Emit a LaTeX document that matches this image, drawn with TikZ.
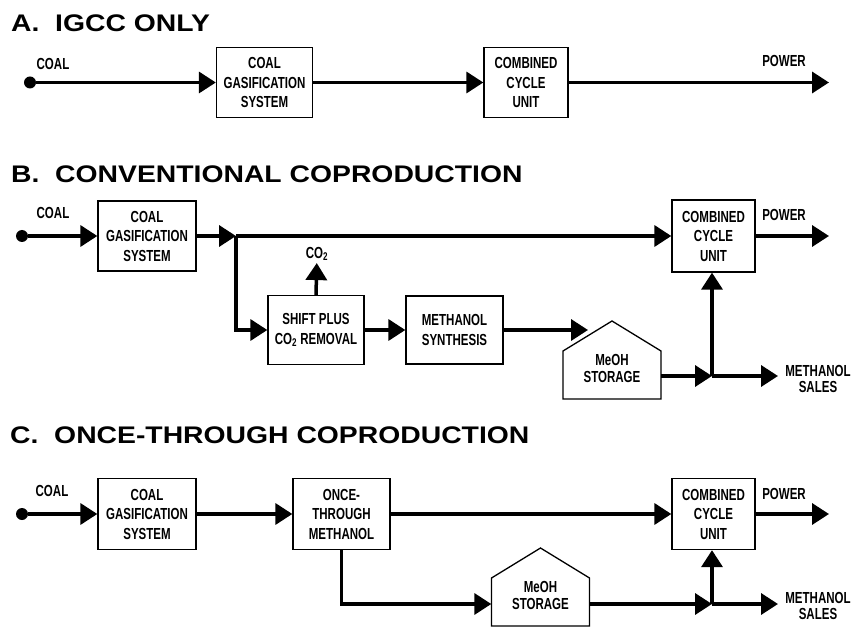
\documentclass[tikz,border=0pt]{standalone}
\usepackage{fontspec}
\setmainfont{Liberation Sans}
\newfontfamily\lblfont[FakeStretch=0.72]{Liberation Sans}
\newfontfamily\ttlfont[FakeStretch=1.18]{Liberation Sans}
\usetikzlibrary{arrows.meta}

\begin{document}
\begin{tikzpicture}[x=1pt,y=-1pt,
  box/.style = {draw, line width=1.3pt, minimum height=70pt, inner sep=2pt,
    align=center, font=\lblfont\bfseries\fontsize{16}{19.5}\selectfont},
  store/.style = {minimum width=98pt, inner sep=0pt, align=center,
    font=\lblfont\bfseries\fontsize{16}{17}\selectfont},
  lbl/.style = {inner sep=2pt, align=center,
    font=\lblfont\bfseries\fontsize{16}{16.5}\selectfont},
  ttl/.style = {anchor=base west, inner sep=0pt,
    font=\ttlfont\bfseries\fontsize{24}{28}\selectfont},
  dot/.style = {circle, fill, minimum size=12pt, inner sep=0pt},
  flow/.style = {line width=3.5pt, -{Triangle[length=17pt,width=21pt]}},
  wall/.style = {line width=1.3pt, line join=miter}]
  \useasboundingbox (0,0) rectangle (856,628);

  \node[ttl] (ttlA) at (11,32) {A.\ \ IGCC ONLY};
  \node[dot] (coalA) at (30,82.5) {};
  \node[lbl] (coalAl) at (53,64) {COAL};
  \node[box, minimum width=96pt] (gasA) at (264.5,82.5) {COAL\\GASIFICATION\\SYSTEM};
  \node[box, minimum width=84pt] (ccA) at (526,82.5) {COMBINED\\CYCLE\\UNIT};
  \coordinate (powA) at (829,82.5);
  \node[lbl] (powAl) at (784,61) {POWER};
  \draw[flow] (coalA) -- (gasA);
  \draw[flow] (gasA) -- (ccA);
  \draw[flow] (ccA) -- (powA);

  \node[ttl] (ttlB) at (11,183) {B.\ \ CONVENTIONAL COPRODUCTION};
  \node[dot] (coalB) at (22,236) {};
  \node[lbl] (coalBl) at (53,213) {COAL};
  \node[box, minimum width=98pt] (gasB) at (147,236) {COAL\\GASIFICATION\\SYSTEM};
  \coordinate (jB) at (236,236);
  \node[box, minimum width=83pt, minimum height=72pt] (ccB) at (713.5,236) {COMBINED\\CYCLE\\UNIT};
  \coordinate (powB) at (829,236);
  \node[lbl] (powBl) at (784,215) {POWER};
  \node[box, minimum width=96pt, minimum height=69pt] (shift) at (316,330) {SHIFT PLUS\\CO\textsubscript{2} REMOVAL};
  \node[lbl] (co2) at (317,254) {CO\textsubscript{2}};
  \node[box, minimum width=97pt, minimum height=68pt] (synth) at (454.5,330) {METHANOL\\SYNTHESIS};
  \node[store] (stB) at (612,368) {MeOH\\STORAGE};
  \draw[wall] ([shift={(-49,31)}]stB.center) -- ++(0,-48) -- ++(49,-30) -- ++(49,30) -- ++(0,48) -- cycle;
  \coordinate (inB) at (588,330);
  \coordinate (jB2) at (712,376);
  \coordinate (salesB) at (778,376);
  \node[lbl] (salesBl) at (818,379) {METHANOL\\SALES};
  \draw[flow] (coalB) -- (gasB);
  \draw[flow] (gasB) -- (jB);
  \draw[flow] (jB) -- (ccB);
  \draw[flow] (ccB) -- (powB);
  \draw[flow] (jB) |- (shift);
  \draw[flow] (shift.north) -- (co2);
  \draw[flow] (shift) -- (synth);
  \draw[flow] (synth) -- (inB);
  \draw[flow] ([yshift=-8pt]stB.east) -- (jB2);
  \draw[flow] (jB2) -- (salesB);
  \draw[flow] (jB2) -- (jB2 |- ccB.south);

  \node[ttl] (ttlC) at (10,443) {C.\ \ ONCE-THROUGH COPRODUCTION};
  \node[dot] (coalC) at (22,514) {};
  \node[lbl] (coalCl) at (52,491) {COAL};
  \node[box, minimum width=98pt, minimum height=71pt] (gasC) at (147,514) {COAL\\GASIFICATION\\SYSTEM};
  \node[box, minimum width=97pt, minimum height=71pt] (once) at (341.5,514) {ONCE-\\THROUGH\\METHANOL};
  \node[box, minimum width=83pt, minimum height=71pt] (ccC) at (713.5,514) {COMBINED\\CYCLE\\UNIT};
  \coordinate (powC) at (829,514);
  \node[lbl] (powCl) at (784,494) {POWER};
  \node[store] (stC) at (540.5,595) {MeOH\\STORAGE};
  \draw[wall] ([shift={(-49,31)}]stC.center) -- ++(0,-48) -- ++(49,-30) -- ++(49,30) -- ++(0,48) -- cycle;
  \coordinate (jC) at (712,604);
  \coordinate (salesC) at (778,604);
  \node[lbl] (salesCl) at (818,606) {METHANOL\\SALES};
  \draw[flow] (coalC) -- (gasC);
  \draw[flow] (gasC) -- (once);
  \draw[flow] (once) -- (ccC);
  \draw[flow] (ccC) -- (powC);
  \draw[flow] (once.south) |- ([yshift=-9pt]stC.west);
  \draw[flow] ([yshift=-9pt]stC.east) -- (jC);
  \draw[flow] (jC) -- (salesC);
  \draw[flow] (jC) -- (jC |- ccC.south);
\end{tikzpicture}
\end{document}
